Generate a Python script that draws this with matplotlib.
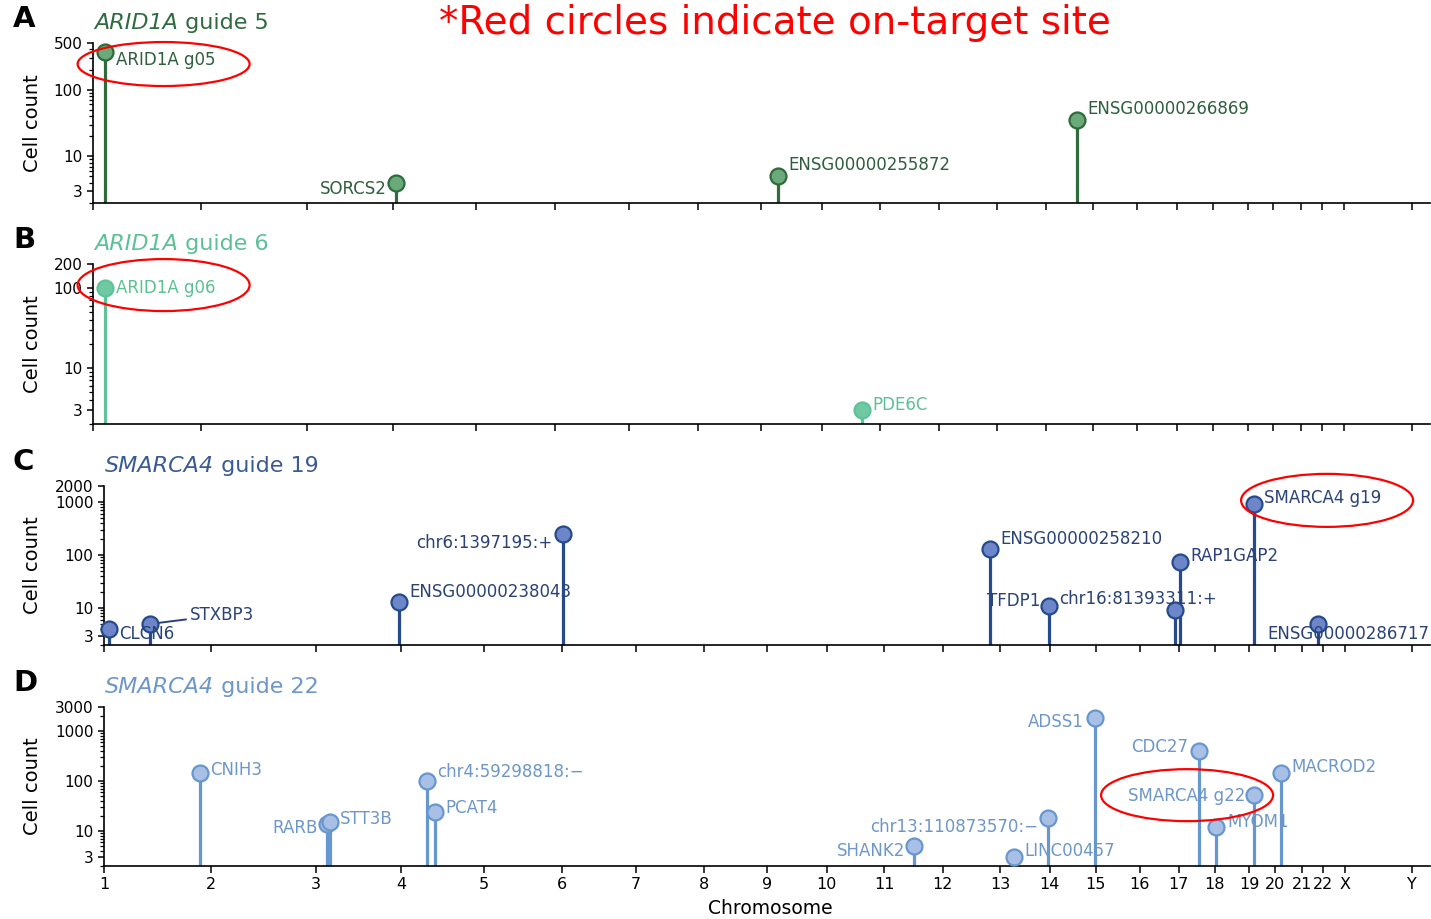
import numpy as np
import matplotlib
matplotlib.use('Agg')
import matplotlib.pyplot as plt
from matplotlib.patches import Ellipse
from matplotlib.transforms import IdentityTransform
from matplotlib.ticker import FixedLocator, FixedFormatter, LogLocator, NullFormatter

# chromosome layout (hg38, Mb)
chrom_names = [str(i) for i in range(1, 23)] + ['X', 'Y']
chrom_len_mb = [248.96, 242.19, 198.30, 190.21, 181.54, 170.81, 159.35, 145.14,
                138.39, 133.80, 135.09, 133.28, 114.36, 107.04, 101.99, 90.34,
                83.26, 80.37, 58.62, 64.44, 46.71, 50.82, 156.04, 57.23]
chrom_start = np.concatenate([[0], np.cumsum(chrom_len_mb)[:-1]])

# A: ARID1A guide 5
a_genes = ['ARID1A g05', 'SORCS2', 'ENSG00000255872', 'ENSG00000266869']
a_chrom = ['1', '4', '9', '14']
a_pos = [26.7, 7.2, 37.7, 69.8]
a_count = [366, 4, 5, 35]

# B: ARID1A guide 6
b_genes = ['ARID1A g06', 'PDE6C']
b_chrom = ['1', '10']
b_pos = [26.7, 92.5]
b_count = [100, 3]

# C: SMARCA4 guide 19
c_genes = ['CLCN6', 'STXBP3', 'ENSG00000238043', 'chr6:1397195:+', 'ENSG00000258210',
           'TFDP1', 'chr16:81393311:+', 'RAP1GAP2', 'SMARCA4 g19', 'ENSG00000286717']
c_chrom = ['1', '1', '3', '6', '12', '13', '16', '17', '19', '21']
c_pos = [11.8, 107.0, 192.5, 1.4, 109.4, 113.0, 81.4, 2.9, 10.9, 35.8]
c_count = [4, 5, 13, 250, 130, 11, 9, 75, 900, 5]

# D: SMARCA4 guide 22
d_genes = ['CNIH3', 'RARB', 'STT3B', 'chr4:59298818:\u2212', 'PCAT4', 'SHANK2',
           'chr13:110873570:\u2212', 'LINC00457', 'ADSS1', 'CDC27', 'MYOM1',
           'SMARCA4 g22', 'MACROD2']
d_chrom = ['1', '3', '3', '4', '4', '11', '13', '13', '14', '17', '18', '19', '20']
d_pos = [222.5, 25.4, 31.5, 59.3, 77.6, 69.0, 110.9, 31.7, 104.7, 47.1, 3.1, 10.9, 14.4]
d_count = [145, 14, 15, 100, 24, 5, 18, 3, 1800, 400, 12, 52, 145]

W, H = 1431, 919
XMAX = 3073
YMIN = 2

panels = [
    dict(letter='A', gene='ARID1A', guide='guide 5', genes=a_genes, chrom=a_chrom, pos=a_pos,
         count=a_count, box=(93, 43, 1430, 203), ytop=500, yticks=[3, 10, 100, 500],
         stem='#2f6b3b', face='#6aaa7a', edge='#2f6b3b', text='#2e5e3e', title='#2e6a3f',
         offs=[(11, -8, 'left'), (-9, -6, 'right'), (10, 11, 'left'), (11, 11, 'left')],
         target=0, ell=(59, -12, 172, 44)),
    dict(letter='B', gene='ARID1A', guide='guide 6', genes=b_genes, chrom=b_chrom, pos=b_pos,
         count=b_count, box=(93, 264, 1430, 424), ytop=200, yticks=[3, 10, 100, 200],
         stem='#5ec39a', face='#6fc9a2', edge='#5ec39a', text='#5cc096', title='#5cc096',
         offs=[(11, 0, 'left'), (10, 5, 'left')],
         target=0, ell=(59, 3, 172, 52)),
    dict(letter='C', gene='SMARCA4', guide='guide 19', genes=c_genes, chrom=c_chrom, pos=c_pos,
         count=c_count, box=(104, 486, 1430, 645), ytop=2000, yticks=[3, 10, 100, 1000, 2000],
         stem='#264b8c', face='#6d86c9', edge='#264b8c', text='#2a4275', title='#3a5a94',
         offs=[(10, -5, 'left'), (40, 9, 'left'), (10, 10, 'left'), (-10, -9, 'right'),
               (10, 10, 'left'), (-9, 5, 'right'), (-116, 11, 'left'), (10, 6, 'left'),
               (10, 6, 'left'), (-51, -10, 'left')],
         target=8, ell=(73, 4, 172, 53)),
    dict(letter='D', gene='SMARCA4', guide='guide 22', genes=d_genes, chrom=d_chrom, pos=d_pos,
         count=d_count, box=(104, 707, 1430, 866), ytop=3000, yticks=[3, 10, 100, 1000, 3000],
         stem='#6797cf', face='#a9c0e6', edge='#6797cf', text='#6d97c8', title='#6d97c8',
         offs=[(10, 3, 'left'), (-9, -4, 'right'), (10, 3, 'left'), (10, 9, 'left'),
               (10, 4, 'left'), (-9, -5, 'right'), (-10, -9, 'right'), (10, 6, 'left'),
               (-11, -4, 'right'), (-11, 4, 'right'), (11, 5, 'left'), (-9, -1, 'right'),
               (10, 6, 'left')],
         target=11, ell=(-67, 0, 172, 52)),
]

fig = plt.figure(figsize=(W / 100, H / 100), dpi=100)
renderer = fig.canvas.get_renderer()

for i, p in enumerate(panels):
    l, t, r, b = p['box']
    ax = fig.add_axes([l / W, 1 - b / H, (r - l) / W, (b - t) / H])
    ax.set_yscale('log')
    ax.set_xlim(0, XMAX)
    ax.set_ylim(YMIN, p['ytop'])
    for s in ['top', 'right']:
        ax.spines[s].set_visible(False)
    for s in ['left', 'bottom']:
        ax.spines[s].set_linewidth(1.2)

    idx = [chrom_names.index(c) for c in p['chrom']]
    x = chrom_start[idx] + np.array(p['pos'])
    y = np.array(p['count'])
    ax.vlines(x, YMIN, y, color=p['stem'], lw=2.3, zorder=2)
    ax.plot(x, y, 'o', ms=11.5, mfc=p['face'], mec=p['edge'], mew=1.6, zorder=3, clip_on=False)

    for j, g in enumerate(p['genes']):
        dx, dy, ha = p['offs'][j]
        kw = {}
        if g == 'STXBP3':
            kw['arrowprops'] = dict(arrowstyle='-', color=p['text'], lw=1.4, shrinkA=1, shrinkB=6)
        ax.annotate(g, (x[j], y[j]), xytext=(dx, dy), textcoords='offset pixels',
                    ha=ha, va='center', fontsize=12, color=p['text'], zorder=4, **kw)

    ax.yaxis.set_major_locator(FixedLocator(p['yticks']))
    ax.yaxis.set_major_formatter(FixedFormatter([str(v) for v in p['yticks']]))
    ax.yaxis.set_minor_locator(LogLocator(base=10, subs=np.arange(2, 10), numticks=20))
    ax.yaxis.set_minor_formatter(NullFormatter())
    ax.tick_params(axis='y', which='major', length=4.5, width=1.1, labelsize=11, pad=3)
    ax.tick_params(axis='y', which='minor', length=3, width=0.9)
    ax.set_xticks(chrom_start)
    ax.tick_params(axis='x', which='major', length=5, width=1.1, labelsize=11.5, pad=3)
    if p['letter'] == 'D':
        ax.set_xticklabels(chrom_names)
    else:
        ax.set_xticklabels([])

    # texts around the panel
    fig.text(13 / W, 1 - (t - 24) / H, p['letter'], fontsize=21, fontweight='bold',
             ha='left', va='center')
    ty = 1 - (t - 20) / H
    it = fig.text((l + 1) / W, ty, p['gene'], fontsize=16, style='italic',
                  color=p['title'], ha='left', va='center')
    x1 = it.get_window_extent(renderer).x1
    fig.text(x1 / W, ty, ' ' + p['guide'], fontsize=16, color=p['title'],
             ha='left', va='center')
    fig.text(33 / W, 1 - (t + b) / 2 / H, 'Cell count', rotation=90, fontsize=14,
             ha='center', va='center')

    # red ellipse around the on-target site
    k = p['target']
    px, py = ax.transData.transform((x[k], y[k]))
    ex, ey, ew, eh = p['ell']
    fig.add_artist(Ellipse((px + ex, py + ey), ew, eh, transform=IdentityTransform(),
                           fill=False, edgecolor='red', lw=1.6, zorder=10))

fig.text(775 / W, 1 - 23 / H, '*Red circles indicate on-target site', color='red',
         fontsize=28, ha='center', va='center')
fig.text(770 / W, 1 - 908 / H, 'Chromosome', fontsize=13.5, ha='center', va='center')

fig.savefig('out.png', dpi=100)
